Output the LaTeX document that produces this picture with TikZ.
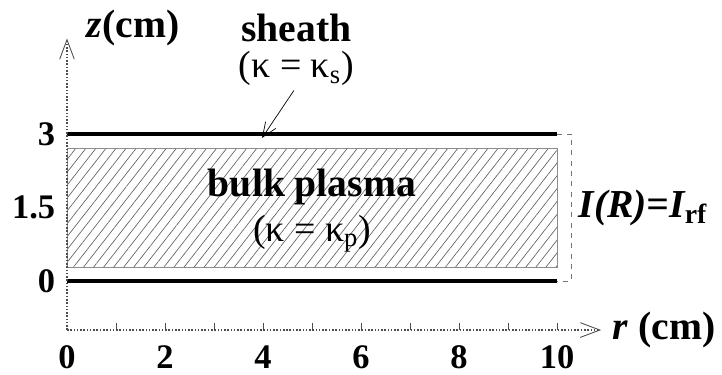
\documentclass[tikz,border=0pt]{standalone}
\usepackage{fontspec}
\setmainfont{Liberation Serif}
\usetikzlibrary{positioning, calc, arrows.meta, patterns.meta}

\begin{document}
\begin{tikzpicture}[x=1cm, y=1cm,
    lbl/.style={font=\fontsize{23}{25}\selectfont\bfseries, inner sep=1pt},
    kap/.style={font=\fontsize{22}{24}\selectfont, inner sep=1pt},
    num/.style={font=\fontsize{20}{22}\selectfont\bfseries, inner sep=1pt},
    axis/.style={densely dotted, line width=0.9pt, black!70, -{Straight Barb[length=4mm, width=3mm, line width=0.5pt]}},
    wall/.style={line width=2.8pt},
    arrow/.style={-{Straight Barb[length=3mm, width=2.5mm]}, thin}]
  \useasboundingbox (-1.367,-1.898) rectangle (13.367,5.735);

  % bulk plasma region
  \fill[pattern={Lines[angle=52, distance=4.6pt, line width=0.4pt]}, pattern color=black!60]
    (0,0.28) rectangle (10,2.7);
  \draw[black!45, thin] (0,0.28) rectangle (10,2.7);

  % electrodes
  \coordinate (w0a) at (0,0); \coordinate (w0b) at (10,0);
  \coordinate (w3a) at (0,3); \coordinate (w3b) at (10,3);
  \draw[wall] (w0a) -- (w0b);
  \draw[wall] (w3a) -- (w3b);
  \draw[black!55, dashed, thin] (w3b) -- ++(0.3,0) |- (w0b);

  % axes
  \coordinate (O) at (0,-1); \coordinate (rend) at (10.9,-1); \coordinate (zend) at (0,4.95);
  \draw[axis] (O) -- (rend);
  \draw[axis] (O) -- (zend);
  \foreach \r in {1,...,10} \draw[black!70, thin] (\r,-1) -- (\r,-0.85);
  \foreach \r in {0,2,4,6,8,10} \node[num] (rl\r) at (\r,-1.55) {\r};
  \node[num, anchor=east] (zl3) at (-0.2,3) {3};
  \node[num, anchor=east] (zl15) at (-0.2,1.5) {1.5};
  \node[num, anchor=east] (zl0) at (-0.2,0) {0};
  \node[lbl, anchor=west] (rlab) at (11.1,-1) {\itshape r\upshape\ (cm)};
  \node[lbl] (zlab) at (1.35,5.17) {\itshape z\upshape (cm)};

  % labels
  \node[lbl] (sheath) at (4.68,5.17) {sheath};
  \node[kap, below=0.12 of sheath] (ks) {(κ = κ\textsubscript{s})};
  \coordinate (stip) at (3.98,2.92);
  \draw[arrow] ($(ks.south)+(-0.05,-0.05)$) -- (stip);
  \node[lbl] (bulk) at (5.0,1.92) {bulk plasma};
  \node[kap, below=0.12 of bulk] (kp) {(κ = κ\textsubscript{p})};
  \node[lbl, anchor=west] (irf) at (10.4,1.5) {\itshape I(R)=I\textsubscript{\upshape rf}};
\end{tikzpicture}
\end{document}
